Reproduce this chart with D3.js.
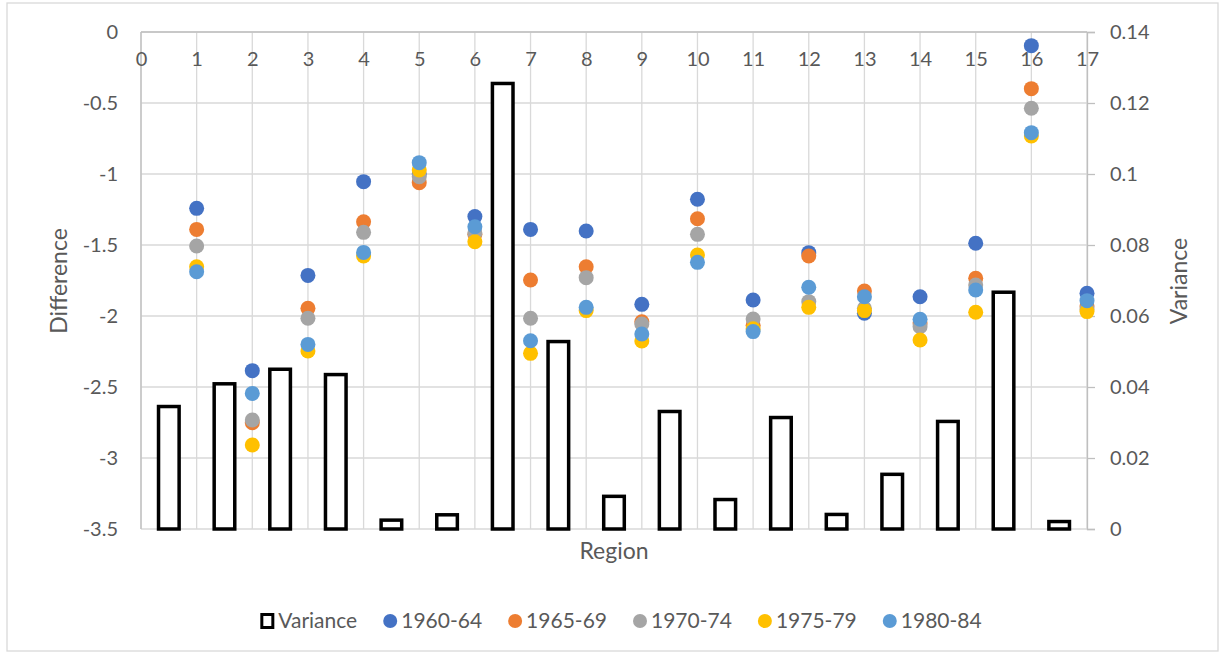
<!DOCTYPE html>
<html>
<head>
<meta charset="utf-8">
<script src="https://cdn.jsdelivr.net/npm/d3@7"></script>
<style>
  html, body { margin: 0; padding: 0; background: #fff; }
  svg { display: block; }
  text { font-family: Lato, "Open Sans", sans-serif; fill: #595959; }
</style>
</head>
<body>
<svg id="chart" width="1225" height="656"></svg>
<script>
// ---------- DATA ----------
const regions = d3.range(1, 18); // 1..17
const barCategories = d3.range(1, 18);
const variance = [0.0345, 0.0409, 0.0450, 0.0435, 0.0025, 0.0040, 0.1255, 0.0528, 0.0092,
                  0.0331, 0.0083, 0.0314, 0.0041, 0.0154, 0.0303, 0.0667, 0.0021];
const d1960 = [-1.242, -2.385, -1.714, -1.054, -1.00, -1.300, -1.390, -1.401, -1.918,
               -1.178, -1.887, -1.554, -1.981, -1.864, -1.488, -0.096, -1.840];
const d1965 = [-1.390, -2.751, -1.946, -1.336, -1.061, -1.425, -1.746, -1.653, -2.040,
               -1.315, -2.065, -1.577, -1.824, -2.05, -1.735, -0.399, -1.93];
const d1970 = [-1.507, -2.732, -2.016, -1.411, -1.019, -1.415, -2.016, -1.730, -2.056,
               -1.425, -2.021, -1.899, -1.946, -2.075, -1.782, -0.537, -1.95];
const d1975 = [-1.653, -2.908, -2.246, -1.577, -0.972, -1.477, -2.263, -1.962, -2.176,
               -1.570, -2.09, -1.939, -1.962, -2.169, -1.974, -0.732, -1.969];
const d1980 = [-1.688, -2.545, -2.200, -1.552, -0.920, -1.371, -2.174, -1.939, -2.127,
               -1.622, -2.110, -1.798, -1.864, -2.023, -1.817, -0.709, -1.892];
const seriesNames = ["1960-64", "1965-69", "1970-74", "1975-79", "1980-84"];
const seriesColors = ["#4472C4", "#ED7D31", "#A5A5A5", "#FFC000", "#5B9BD5"];
const leftTicks = [0, -0.5, -1, -1.5, -2, -2.5, -3, -3.5];
const rightTicks = [0, 0.02, 0.04, 0.06, 0.08, 0.1, 0.12, 0.14];
const xTicks = d3.range(0, 18);

// ---------- LAYOUT ----------
const svg = d3.select("#chart");
const L = 141, R = 1087, T = 32, B = 529;
const tickFont = 20;

svg.append("rect").attr("x", 7).attr("y", 3).attr("width", 1211).attr("height", 648)
  .attr("fill", "#fff").attr("stroke", "#D9D9D9").attr("stroke-width", 1.3);

const x = d3.scaleLinear().domain([0, 17]).range([L, R]);
const y = d3.scaleLinear().domain([-3.5, 0]).range([B, T]);
const y2 = d3.scaleLinear().domain([0, 0.14]).range([B, T]);
const xb = d3.scaleBand().domain(barCategories).range([L, R]).paddingInner(0.63).paddingOuter(0.315);

// gridlines
svg.append("g").selectAll("line").data(leftTicks).join("line")
  .attr("x1", L).attr("x2", R).attr("y1", d => y(d)).attr("y2", d => y(d))
  .attr("stroke", "#D9D9D9").attr("stroke-width", 1.3);
svg.append("g").selectAll("line").data(xTicks).join("line")
  .attr("x1", d => x(d)).attr("x2", d => x(d)).attr("y1", T).attr("y2", B)
  .attr("stroke", "#D9D9D9").attr("stroke-width", 1.3);

// axis lines
svg.append("line").attr("x1", L).attr("x2", L).attr("y1", T).attr("y2", B)
  .attr("stroke", "#BFBFBF").attr("stroke-width", 1.3);
svg.append("line").attr("x1", L).attr("x2", R).attr("y1", T).attr("y2", T)
  .attr("stroke", "#BFBFBF").attr("stroke-width", 1.3);

// right axis via d3
const rightAxis = d3.axisRight(y2).tickValues(rightTicks).tickSize(8).tickPadding(15)
  .tickFormat(d => String(+d.toFixed(2)));
const rg = svg.append("g").attr("transform", `translate(${R},0)`).call(rightAxis);
rg.select(".domain").attr("stroke", "#BFBFBF").attr("stroke-width", 1.3);
rg.selectAll(".tick line").attr("stroke", "#BFBFBF").attr("stroke-width", 1.3);
rg.selectAll(".tick text").attr("font-size", tickFont).attr("fill", "#595959")
  .attr("font-family", "Lato, sans-serif");

// left axis labels
const leftAxis = d3.axisLeft(y).tickValues(leftTicks).tickSize(0).tickPadding(23)
  .tickFormat(d => String(d));
const lg = svg.append("g").attr("transform", `translate(${L},0)`).call(leftAxis);
lg.select(".domain").remove();
lg.selectAll(".tick text").attr("font-size", tickFont).attr("fill", "#595959")
  .attr("font-family", "Lato, sans-serif");

// x labels (inside top)
const topAxis = d3.axisBottom(x).tickValues(xTicks).tickSize(0).tickPadding(20)
  .tickFormat(d => String(d));
const tg = svg.append("g").attr("transform", `translate(0,${T})`).call(topAxis);
tg.select(".domain").remove();
tg.selectAll(".tick text").attr("font-size", tickFont).attr("fill", "#595959")
  .attr("font-family", "Lato, sans-serif");

// bars
svg.append("g").selectAll("rect").data(variance).join("rect")
  .attr("x", (d, i) => xb(barCategories[i]))
  .attr("width", xb.bandwidth())
  .attr("y", d => y2(d))
  .attr("height", d => y2(0) - y2(d))
  .attr("fill", "#fff").attr("stroke", "#000").attr("stroke-width", 3.5);

// dots
const allSeries = [d1960, d1965, d1970, d1975, d1980];
allSeries.forEach((vals, si) => {
  svg.append("g").selectAll("circle").data(vals).join("circle")
    .attr("cx", (d, i) => x(regions[i]))
    .attr("cy", d => y(d))
    .attr("r", 7.5)
    .attr("fill", seriesColors[si]);
});

// axis titles
svg.append("text").attr("transform", `translate(67,281) rotate(-90)`)
  .attr("text-anchor", "middle").attr("font-size", 23).text("Difference");
svg.append("text").attr("transform", `translate(1187,281) rotate(-90)`)
  .attr("text-anchor", "middle").attr("font-size", 23).text("Variance");
svg.append("text").attr("x", 614).attr("y", 559)
  .attr("text-anchor", "middle").attr("font-size", 23).text("Region");

// legend
const legendItems = [{name: "Variance", type: "bar"}].concat(
  seriesNames.map((n, i) => ({name: n, type: "dot", color: seriesColors[i]})));
const lgG = svg.append("g");
let cx = 0;
const ly = 621;
const gap = 26;
legendItems.forEach((it, i) => {
  const g = lgG.append("g").attr("transform", `translate(${cx},0)`);
  if (it.type === "bar") {
    g.append("rect").attr("x", 1.5).attr("y", ly - 6.5).attr("width", 11).attr("height", 13)
      .attr("fill", "#fff").attr("stroke", "#000").attr("stroke-width", 3);
  } else {
    g.append("circle").attr("cx", 7).attr("cy", ly).attr("r", 7).attr("fill", it.color);
  }
  const t = g.append("text").attr("x", 18).attr("y", ly).attr("dy", "0.35em")
    .attr("font-size", 21).text(it.name);
  const w = t.node().getComputedTextLength();
  cx += 18 + w + gap;
});
const totalW = cx - gap;
lgG.attr("transform", `translate(${621 - totalW / 2},0)`);
</script>
</body>
</html>
